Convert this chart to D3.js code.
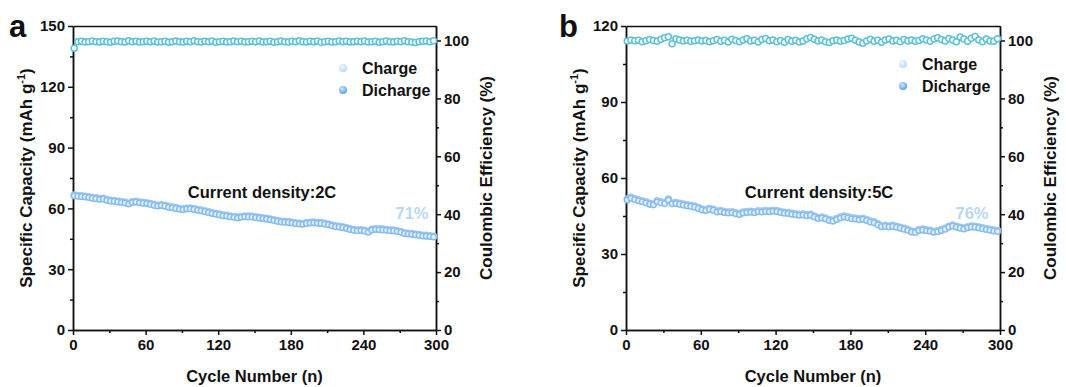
<!DOCTYPE html>
<html>
<head>
<meta charset="utf-8">
<title>Cycling performance</title>
<script src="https://d3js.org/d3.v7.min.js"></script>
<style>
  body { margin: 0; background: #fff; }
  text { font-family: 'Liberation Sans', Arial, sans-serif; font-weight: bold; fill: #111; }
  .axis path, .axis line { stroke: #111; stroke-width: 1.5; }
  .axis text { font-size: 15px; font-weight: bold; }
</style>
</head>
<body>
<div id="chart"></div>
<script>
// cycle numbers sampled every 3 cycles
var cycles = d3.range(1, 300, 3);

var dischargeA = [
  66.2, 66.0, 65.8, 65.7, 65.4, 65.0, 64.8, 64.5, 64.6, 64.0,
  63.6, 63.5, 63.2, 62.9, 62.7, 62.2, 62.9, 63.1, 62.8, 62.6,
  62.4, 62.0, 61.5, 61.2, 61.4, 61.1, 60.6, 60.3, 60.0, 59.6,
  59.4, 59.7, 59.8, 59.5, 59.1, 58.8, 58.4, 58.0, 57.5, 57.1,
  56.8, 56.4, 56.2, 55.9, 55.6, 55.3, 55.6, 55.9, 55.8, 55.7,
  55.5, 55.2, 55.0, 54.7, 54.4, 54.0, 53.6, 53.3, 53.2, 53.1,
  52.8, 52.5, 52.3, 52.2, 52.6, 52.8, 52.9, 52.7, 52.6, 52.3,
  51.9, 51.4, 51.0, 50.8, 50.5, 50.1, 49.6, 49.2, 49.0, 49.1,
  48.8, 48.2, 49.3, 49.6, 49.5, 49.4, 49.2, 49.0, 48.9, 48.6,
  48.2, 47.6, 47.4, 47.2, 47.0, 46.7, 46.4, 46.3, 46.1, 45.9
];
var chargeA = [
  66.6, 66.4, 66.2, 66.0, 65.8, 65.4, 65.2, 64.9, 65.0, 64.4,
  64.0, 63.9, 63.6, 63.3, 63.1, 62.6, 63.3, 63.5, 63.2, 63.0,
  62.8, 62.4, 61.9, 61.6, 61.8, 61.5, 61.0, 60.7, 60.4, 60.0,
  59.8, 60.1, 60.2, 59.9, 59.5, 59.2, 58.8, 58.4, 57.9, 57.5,
  57.2, 56.8, 56.6, 56.3, 56.0, 55.7, 56.0, 56.3, 56.2, 56.1,
  55.9, 55.6, 55.4, 55.1, 54.8, 54.4, 54.0, 53.7, 53.6, 53.5,
  53.2, 52.9, 52.7, 52.6, 53.0, 53.2, 53.3, 53.1, 53.0, 52.7,
  52.3, 51.8, 51.4, 51.2, 50.9, 50.5, 50.0, 49.6, 49.4, 49.5,
  49.2, 48.6, 49.7, 50.0, 49.9, 49.8, 49.6, 49.4, 49.3, 49.0,
  48.6, 48.0, 47.8, 47.6, 47.4, 47.1, 46.8, 46.7, 46.5, 46.3
];
var ceA = [
  97.3, 99.6, 99.7, 99.5, 99.6, 99.8, 99.6, 99.5, 99.7, 99.6,
  99.4, 99.7, 99.8, 99.6, 99.5, 99.9, 99.6, 99.7, 99.5, 99.6,
  99.7, 99.6, 99.8, 99.5, 99.6, 99.7, 99.4, 99.6, 99.8, 99.6,
  99.5, 99.7, 99.6, 99.9, 99.6, 99.5, 99.7, 99.6, 99.8, 99.4,
  99.6, 99.7, 99.5, 99.6, 99.8, 99.6, 99.7, 99.5, 99.6, 99.7,
  99.6, 99.8, 99.5, 99.6, 99.7, 99.4, 99.6, 99.8, 99.6, 99.5,
  99.7, 99.6, 99.9, 99.6, 99.5, 99.7, 99.6, 99.8, 99.4, 99.6,
  99.7, 99.5, 99.6, 99.8, 99.6, 99.7, 99.5, 99.6, 99.7, 99.6,
  99.8, 99.5, 99.6, 99.7, 99.4, 99.6, 99.8, 99.6, 99.5, 99.7,
  99.6, 99.9, 99.6, 99.5, 99.3, 99.6, 99.7, 99.8, 99.6, 99.9
];

var dischargeB = [
  51.3, 52.0, 51.5, 51.0, 50.6, 50.2, 49.6, 49.4, 50.6, 50.2,
  49.9, 51.3, 49.8, 49.9, 49.6, 49.3, 49.0, 48.8, 48.5, 48.0,
  47.4, 47.2, 47.6, 47.3, 46.6, 46.8, 46.4, 46.2, 46.3, 45.9,
  45.6, 46.2, 46.4, 46.5, 46.3, 46.7, 46.6, 46.8, 46.7, 46.9,
  46.8, 46.4, 46.1, 46.0, 45.7, 45.5, 45.3, 45.4, 45.1, 45.3,
  44.6, 44.0, 44.2, 43.8, 43.2, 42.9, 43.6, 44.2, 44.6, 44.3,
  43.9, 43.8, 43.5, 43.7, 43.2, 42.6, 42.3, 41.5, 40.8, 40.9,
  40.7, 40.9, 40.6, 40.2, 39.8, 39.4, 38.7, 38.5, 39.3, 39.5,
  39.2, 39.0, 38.6, 38.8, 39.3, 39.8, 40.6, 41.0, 40.6, 40.2,
  39.9, 40.4, 40.7, 40.6, 40.3, 40.0, 39.7, 39.4, 39.1, 38.9
];
var chargeB = [
  51.7, 52.4, 51.9, 51.4, 51.0, 50.6, 50.0, 49.8, 51.0, 50.6,
  50.3, 51.7, 50.2, 50.3, 50.0, 49.7, 49.4, 49.2, 48.9, 48.4,
  47.8, 47.6, 48.0, 47.7, 47.0, 47.2, 46.8, 46.6, 46.7, 46.3,
  46.0, 46.6, 46.8, 46.9, 46.7, 47.1, 47.0, 47.2, 47.1, 47.3,
  47.2, 46.8, 46.5, 46.4, 46.1, 45.9, 45.7, 45.8, 45.5, 45.7,
  45.0, 44.4, 44.6, 44.2, 43.6, 43.3, 44.0, 44.6, 45.0, 44.7,
  44.3, 44.2, 43.9, 44.1, 43.6, 43.0, 42.7, 41.9, 41.2, 41.3,
  41.1, 41.3, 41.0, 40.6, 40.2, 39.8, 39.1, 38.9, 39.7, 39.9,
  39.6, 39.4, 39.0, 39.2, 39.7, 40.2, 41.0, 41.4, 41.0, 40.6,
  40.3, 40.8, 41.1, 41.0, 40.7, 40.4, 40.1, 39.8, 39.5, 39.3
];
var ceB = [
  99.8, 100.2, 99.9, 100.1, 99.6, 99.9, 100.3, 100.0, 99.7, 100.4,
  100.9, 101.3, 98.9, 100.6, 100.2, 99.8, 100.1, 99.7, 99.9, 100.2,
  99.8, 100.0, 99.6, 99.9, 100.3, 99.7, 100.1, 99.5, 100.4, 100.0,
  99.6, 100.2, 100.6, 99.8, 100.1, 99.5, 100.3, 100.7, 99.9, 100.2,
  99.6, 100.0, 99.4, 100.3, 99.7, 100.1, 99.5, 99.8, 100.6, 101.0,
  100.4, 99.8, 100.2, 99.6, 99.3, 99.9, 100.2, 99.7, 100.0, 100.5,
  100.8, 100.1, 99.5, 99.0, 99.8, 100.4, 99.7, 100.1, 99.4, 100.2,
  100.5, 99.8, 100.1, 99.6, 100.3, 99.8, 100.2, 99.7, 100.0, 100.6,
  100.2, 99.7, 100.5, 100.9, 100.3, 99.8, 100.7, 100.2, 99.6, 101.2,
  100.5, 99.7, 100.8, 101.4, 100.2, 99.6, 100.5, 99.8, 99.7, 100.6
];

var xTicks = [0, 60, 120, 180, 240, 300];
var ceTicks = [0, 20, 40, 60, 80, 100];
var capTicksA = [0, 30, 60, 90, 120, 150];
var capTicksB = [0, 30, 60, 90, 120];

var W = 1066, H = 387;
var svg = d3.select("#chart").append("svg")
  .attr("width", W).attr("height", H);

// sphere-like legend symbols
var defs = svg.append("defs");
function grad(id, c0, c1) {
  var g = defs.append("radialGradient").attr("id", id)
    .attr("cx", "40%").attr("cy", "35%").attr("r", "65%");
  g.append("stop").attr("offset", "0%").attr("stop-color", c0);
  g.append("stop").attr("offset", "100%").attr("stop-color", c1);
}
grad("gCharge", "#f2f8ff", "#b9d7f6");
grad("gDis", "#cfe6ff", "#5a9fe6");

function panel(opt) {
  var x = d3.scaleLinear().domain([0, 300]).range([opt.left, opt.right]);
  var y = d3.scaleLinear().domain([0, opt.capMax]).range([330, 26]);
  var y2 = d3.scaleLinear().domain([0, 105]).range([330, 26]);
  var g = svg.append("g");

  // minor ticks
  g.append("g").attr("class", "axis").attr("transform", "translate(0,330)")
    .call(d3.axisBottom(x).tickValues([30, 90, 150, 210, 270]).tickSize(3).tickFormat("").tickSizeOuter(0));
  g.append("g").attr("class", "axis").attr("transform", "translate(" + opt.left + ",0)")
    .call(d3.axisLeft(y).tickValues(opt.capTicks.slice(0, -1).map(function(v){ return v + 15; })).tickSize(3).tickFormat("").tickSizeOuter(0));
  g.append("g").attr("class", "axis").attr("transform", "translate(" + opt.right + ",0)")
    .call(d3.axisRight(y2).tickValues([10, 30, 50, 70, 90]).tickSize(3).tickFormat("").tickSizeOuter(0));

  // major axes
  g.append("g").attr("class", "axis").attr("transform", "translate(0,330)")
    .call(d3.axisBottom(x).tickValues(xTicks).tickSize(5).tickSizeOuter(0).tickPadding(4));
  g.append("g").attr("class", "axis").attr("transform", "translate(" + opt.left + ",0)")
    .call(d3.axisLeft(y).tickValues(opt.capTicks).tickSize(5).tickSizeOuter(0).tickPadding(3));
  g.append("g").attr("class", "axis").attr("transform", "translate(" + opt.right + ",0)")
    .call(d3.axisRight(y2).tickValues(ceTicks).tickSize(5).tickSizeOuter(0).tickPadding(3));
  g.append("g").attr("class", "axis").attr("transform", "translate(0,26)")
    .call(d3.axisTop(x).tickValues([]).tickSizeOuter(0));

  // coulombic efficiency
  g.append("g").selectAll("circle")
    .data(cycles.map(function(c, i){ return [c, opt.ce[i]]; }))
    .enter().append("circle")
      .attr("cx", function(d){ return x(d[0]); })
      .attr("cy", function(d){ return y2(d[1]); })
      .attr("r", 3)
      .style("fill", "#fff")
      .style("stroke", "#5cc1da")
      .style("stroke-width", 1.5);

  // charge / discharge capacity
  g.append("g").selectAll("circle")
    .data(cycles.map(function(c, i){ return [c, opt.charge[i]]; }))
    .enter().append("circle")
      .attr("cx", function(d){ return x(d[0]); })
      .attr("cy", function(d){ return y(d[1]); })
      .attr("r", 3)
      .style("fill", "#eef5fe")
      .style("stroke", "#a2cbf4")
      .style("stroke-width", 1.5);
  g.append("g").selectAll("circle")
    .data(cycles.map(function(c, i){ return [c, opt.discharge[i]]; }))
    .enter().append("circle")
      .attr("cx", function(d){ return x(d[0]); })
      .attr("cy", function(d){ return y(d[1]); })
      .attr("r", 2.8)
      .style("fill", "#e4f0fd")
      .style("stroke", "#88bcf0")
      .style("stroke-width", 1.5);

  // titles
  var mid = (opt.left + opt.right) / 2;
  g.append("text").attr("x", mid).attr("y", 382)
    .attr("text-anchor", "middle").style("font-size", "16.5px").text("Cycle Number (n)");
  var lt = g.append("text")
    .attr("transform", "translate(" + (opt.left - 41) + ",178) rotate(-90)")
    .attr("text-anchor", "middle").style("font-size", "17px");
  lt.append("tspan").text("Specific Capacity (mAh g");
  lt.append("tspan").attr("dy", -7).style("font-size", "11px").text("-1");
  lt.append("tspan").attr("dy", 7).text(")");
  g.append("text")
    .attr("transform", "translate(" + (opt.right + 56) + ",178) rotate(-90)")
    .attr("text-anchor", "middle").style("font-size", "17px").text("Coulombic Efficiency (%)");

  g.append("text").attr("x", opt.letterX).attr("y", 37)
    .style("font-size", "31px").text(opt.letter);

  g.append("text").attr("x", opt.noteX).attr("y", 198)
    .attr("text-anchor", "middle").style("font-size", "16.5px").text(opt.note);
  g.append("text").attr("x", opt.pctX).attr("y", 219)
    .attr("text-anchor", "middle").style("font-size", "16.5px")
    .style("fill", "#b8d7f6").text(opt.pct);

  // legend
  var lg = g.append("g");
  [["Charge", "url(#gCharge)"], ["Dicharge", "url(#gDis)"]].forEach(function(it, i) {
    var yy = opt.legY + i * 22;
    lg.append("circle").attr("cx", opt.legX).attr("cy", yy).attr("r", 4).style("fill", it[1]);
    lg.append("text").attr("x", opt.legX + 19).attr("y", yy + 6)
      .style("font-size", "16px").text(it[0]);
  });
}

panel({ left: 73, right: 436, capMax: 150, capTicks: capTicksA,
  charge: chargeA, discharge: dischargeA, ce: ceA,
  letter: "a", letterX: 9, note: "Current density:2C", noteX: 262,
  pct: "71%", pctX: 412, legX: 343, legY: 68 });
panel({ left: 626, right: 1000, capMax: 120, capTicks: capTicksB,
  charge: chargeB, discharge: dischargeB, ce: ceB,
  letter: "b", letterX: 559, note: "Current density:5C", noteX: 819,
  pct: "76%", pctX: 972, legX: 903, legY: 64 });
</script>
</body>
</html>
